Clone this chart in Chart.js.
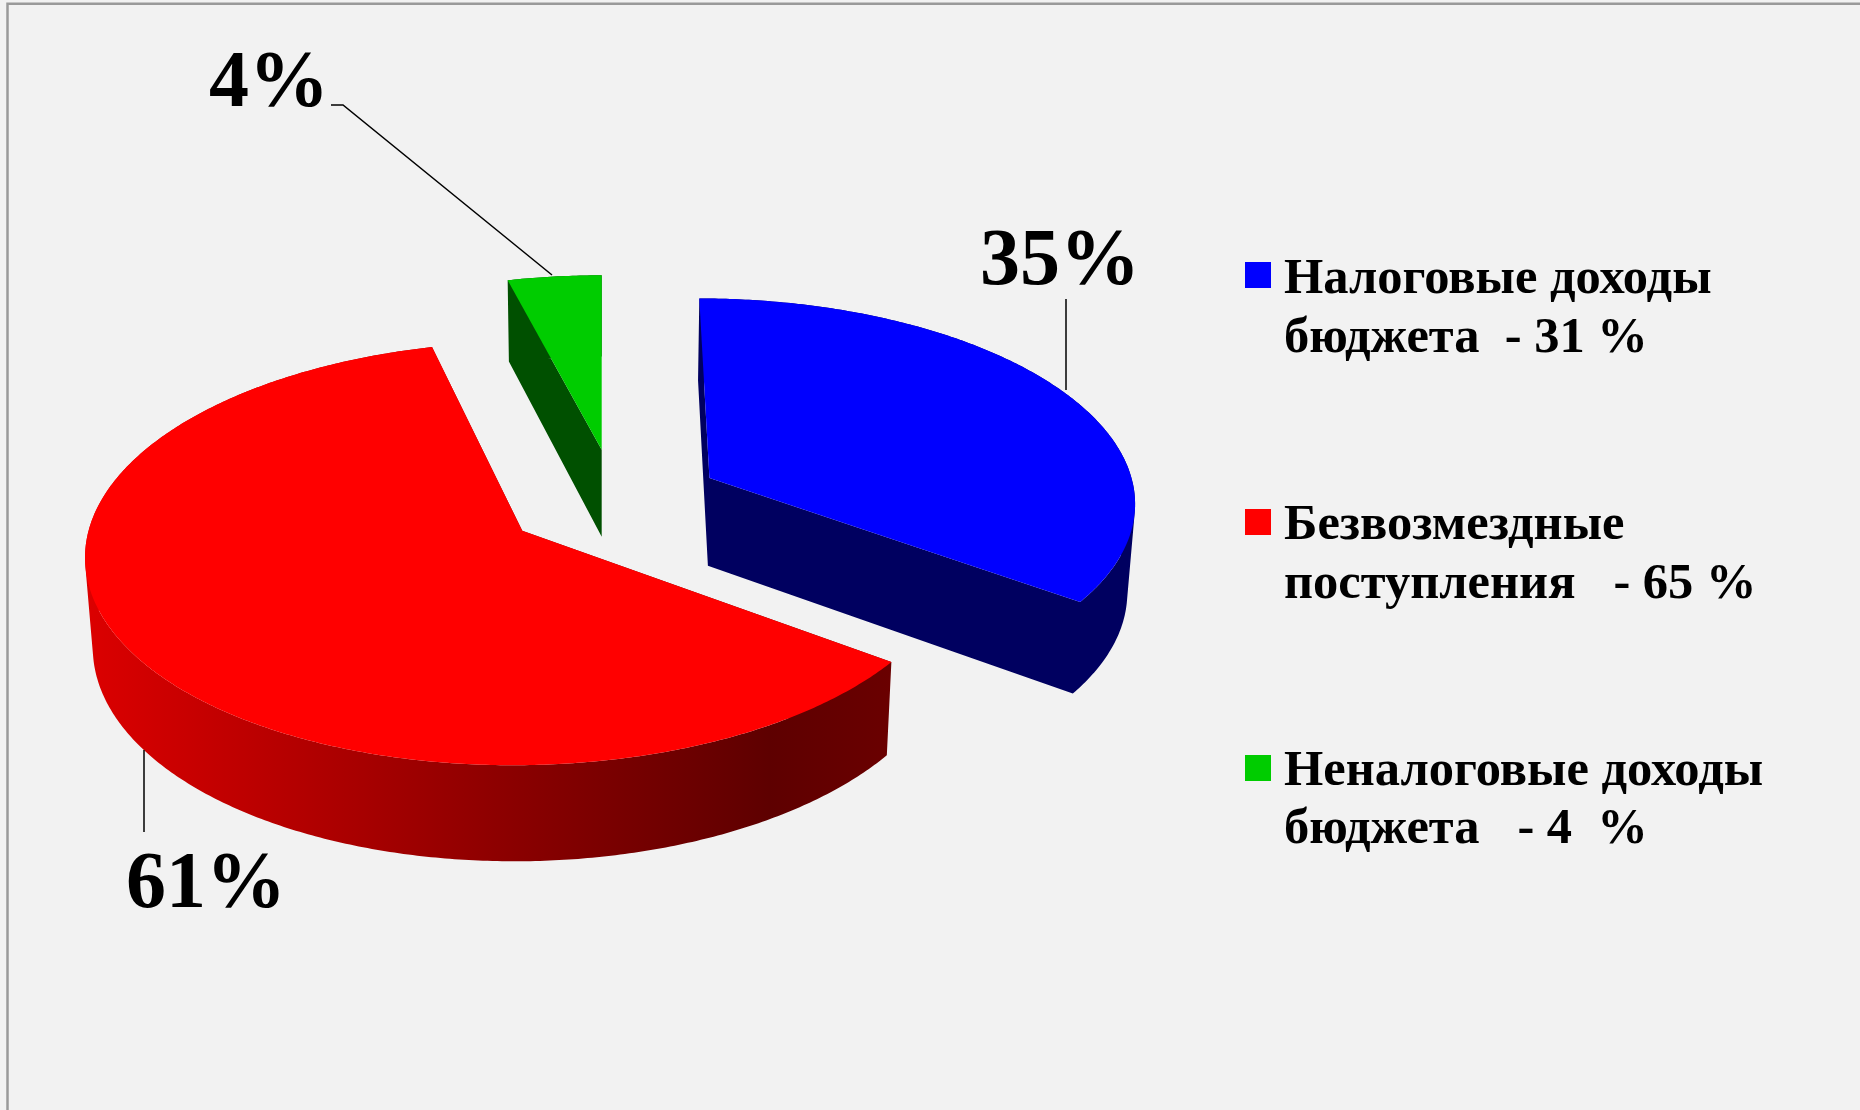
<!DOCTYPE html>
<html lang="ru">
<head>
<meta charset="utf-8">
<title>Доходы бюджета</title>
<style>html,body{margin:0;padding:0;background:#f2f2f2}canvas{display:block}</style>
<script src="https://cdn.jsdelivr.net/npm/chart.js@4/dist/chart.umd.js"></script>
</head>
<body>
<div style="width:1860px;height:1110px"><canvas id="c" width="1860" height="1110"></canvas></div>
<script>
// ---- data ----
const categories = ['Налоговые доходы бюджета', 'Безвозмездные поступления', 'Неналоговые доходы бюджета'];
const shareValues = [35, 61, 4];
const legendLines = [
  ['Налоговые доходы', 'бюджета  - 31 %'],
  ['Безвозмездные', 'поступления   - 65 %'],
  ['Неналоговые доходы', 'бюджета   - 4  %']
];
// ---- styles ----
const topColors = ['#0000ff', '#ff0000', '#00cc00'];
const wallColors = ['#000060', null, '#005000'];
const explodeOffsets = [105, 85, 103];
const lateralNudge = [[0.01, 0.01], [0, 0], [0.033, 0.012]];
// ---- layout of annotations ----
const valueLabelPos = [[980, 284], [126, 907], [209, 106]];
const leaders = [
  [[1066, 299], [1066, 390]],
  [[144, 750], [144, 832]],
  [[331, 105], [343, 105], [552, 275]]
];
const legendSwatchY = [262, 509, 755];
const legendBaseY = [[293, 352], [539, 598], [785, 843]];

// perspective camera, in units of the pie radius
const cam = { A: 1.134, B: 5.115, k: 0.107, D0: 1.0134, m: 0.015, dB: 0.314 };

function projector(arc) {
  const r = arc.outerRadius;
  const yh = arc.y - cam.B * r / cam.D0;
  return (X, Y, low) => {
    const D = cam.D0 + cam.k * Y + (low ? cam.m : 0);
    return [arc.x + cam.A * r * X / D, yh + (cam.B + (low ? cam.dB : 0)) * r / D];
  };
}
function addPoly(ctx, pts) {
  pts.forEach((p, i) => i ? ctx.lineTo(p[0], p[1]) : ctx.moveTo(p[0], p[1]));
  ctx.closePath();
}
function signedArea(pts) {
  let s = 0;
  pts.forEach((p, i) => { const q = pts[(i + 1) % pts.length]; s += p[0] * q[1] - q[0] * p[1]; });
  return s;
}
const pie3d = {
  id: 'pie3d',
  beforeDraw(chart) {
    const { ctx, width, height } = chart;
    ctx.save();
    ctx.fillStyle = '#f2f2f2'; ctx.fillRect(0, 0, width, height);
    ctx.strokeStyle = '#9a9a9a'; ctx.lineWidth = 2.5;
    ctx.beginPath(); ctx.moveTo(7.5, height); ctx.lineTo(7.5, 3.75); ctx.lineTo(width, 3.75); ctx.stroke();
    ctx.restore();
  },
  beforeDatasetsDraw(chart) {
    const { ctx } = chart;
    const arcs = chart.getDatasetMeta(0).data;
    const grad = ctx.createLinearGradient(85, 0, 890, 0);
    grad.addColorStop(0, '#dc0000');
    grad.addColorStop(0.5, '#8f0000');
    grad.addColorStop(0.85, '#5e0000');
    grad.addColorStop(1, '#6a0000');
    ctx.save();
    arcs.forEach((arc, i) => {
      const proj = projector(arc);
      const r = arc.outerRadius;
      const mid = (arc.startAngle + arc.endAngle) / 2;
      const e = arc.options.offset / r;
      const ax = e * Math.cos(mid) + lateralNudge[i][0];
      const ay = -e * Math.sin(mid) + lateralNudge[i][1];
      const rim = [];
      const n = Math.max(8, Math.ceil((arc.endAngle - arc.startAngle) / 0.01));
      for (let s = 0; s <= n; s++) {
        const a = arc.startAngle + (arc.endAngle - arc.startAngle) * s / n;
        rim.push([ax + Math.cos(a), ay - Math.sin(a)]);
      }
      const outline = [[ax, ay], ...rim];
      // every wall quad goes into one path, all wound the same way, so there are no seams
      ctx.beginPath();
      outline.forEach((p, s) => {
        const q = outline[(s + 1) % outline.length];
        const quad = [proj(p[0], p[1], false), proj(q[0], q[1], false), proj(q[0], q[1], true), proj(p[0], p[1], true)];
        if (signedArea(quad) < 0) quad.reverse();
        addPoly(ctx, quad);
      });
      ctx.fillStyle = wallColors[i] || grad;
      ctx.fill('nonzero');
      ctx.beginPath();
      addPoly(ctx, outline.map(p => proj(p[0], p[1], false)));
      ctx.fillStyle = arc.options.backgroundColor;
      ctx.fill();
    });
    ctx.restore();
    return false;
  },
  afterDraw(chart) {
    const { ctx } = chart;
    ctx.save();
    ctx.fillStyle = '#000'; ctx.strokeStyle = '#000'; ctx.lineWidth = 1.5;
    ctx.textBaseline = 'alphabetic'; ctx.textAlign = 'left';
    leaders.forEach(l => {
      ctx.beginPath();
      l.forEach((p, i) => i ? ctx.lineTo(p[0], p[1]) : ctx.moveTo(p[0], p[1]));
      ctx.stroke();
    });
    ctx.font = 'bold 80px "Liberation Serif"';
    shareValues.forEach((v, i) => ctx.fillText(v + '%', valueLabelPos[i][0], valueLabelPos[i][1]));
    categories.forEach((c, i) => {
      ctx.fillStyle = topColors[i];
      ctx.fillRect(1245, legendSwatchY[i], 26, 26);
      ctx.fillStyle = '#000';
      ctx.font = 'bold 50.5px "Liberation Serif"';
      legendLines[i].forEach((t, j) => ctx.fillText(t, 1284, legendBaseY[i][j]));
    });
    ctx.restore();
  }
};
new Chart(document.getElementById('c'), {
  type: 'pie',
  data: {
    labels: categories,
    datasets: [{ data: shareValues, backgroundColor: topColors, offset: explodeOffsets, borderWidth: 0 }]
  },
  options: {
    responsive: false,
    animation: false,
    layout: { padding: { left: 167, right: 823, top: 70, bottom: 170 } },
    plugins: { legend: { display: false }, tooltip: { enabled: false } }
  },
  plugins: [pie3d]
});
</script>
</body>
</html>
